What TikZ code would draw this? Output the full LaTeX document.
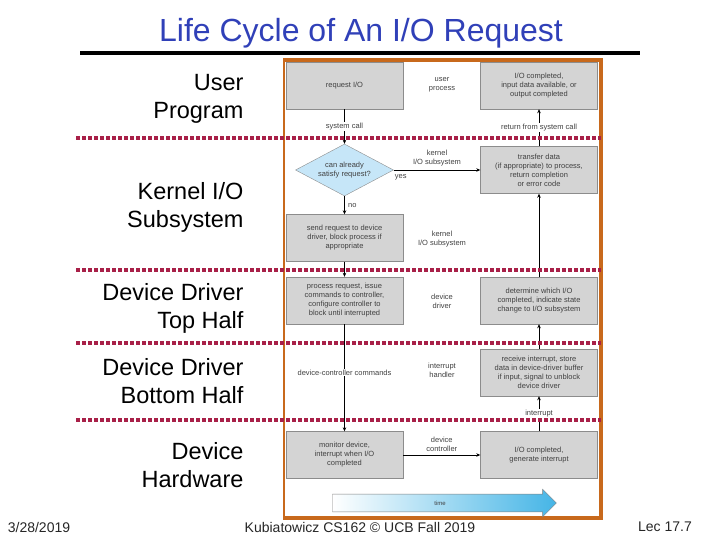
\documentclass[tikz,border=0pt]{standalone}
\usepackage{fontspec}
\setmainfont{Liberation Sans}
\usetikzlibrary{arrows.meta,shapes.geometric,shapes.arrows}
\definecolor{titleblue}{HTML}{3040B8}
\definecolor{frameorange}{HTML}{C8691C}
\definecolor{dotred}{HTML}{A82048}
\definecolor{boxgray}{HTML}{D4D4D4}
\definecolor{diamondblue}{HTML}{C6E6F8}
\definecolor{timeblue}{HTML}{45B5E6}

\begin{document}
\begin{tikzpicture}[x=1pt, y=-1pt,
  stagebox/.style={draw=black!45, fill=boxgray, minimum width=117pt, minimum height=47pt,
    align=center, inner sep=1pt, font=\fontsize{7.5}{9}\selectfont, text=black!75},
  midtext/.style={align=center, font=\fontsize{7.5}{9}\selectfont, text=black!75},
  linelabel/.style={fill=white, inner sep=1pt, font=\fontsize{7.5}{9}\selectfont, text=black!75},
  levelname/.style={align=right, anchor=east, font=\fontsize{23.5}{28}\selectfont},
  levelline/.style={dotred, line width=3.5pt, dash pattern=on 3.5pt off 2.5pt},
  flowarrow/.style={-{Stealth[length=4pt,width=3.5pt]}, black, line width=0.6pt}]
  \useasboundingbox (0,0) rectangle (720,540);
  % Title
  \node[font=\fontsize{32}{34}\selectfont, text=titleblue] (title) at (361,33) {Life Cycle of An I/O Request};
  \draw[line width=4pt] (80,53) -- (640,53);
  % Frame
  \draw[frameorange, line width=1.5pt] (284,60) rectangle (601,518);
  \draw[frameorange, line width=4pt] (283,60) -- (601,60) -- (601,518) -- (283,518);
  % Levels
  \node[levelname] (user) at (247,99) {User\\Program};
  \node[levelname] (kernel) at (247,207) {Kernel I/O\\Subsystem};
  \node[levelname] (tophalf) at (247,308) {Device Driver\\Top Half};
  \node[levelname] (bottomhalf) at (247,381) {Device Driver\\Bottom Half};
  \node[levelname] (hardware) at (247,465) {Device\\Hardware};
  % Left column
  \def\colL{344.5}
  \def\colR{539}
  \node[stagebox] (request) at (\colL,85.5) {request I/O};
  \node[diamond, draw=black!45, fill=diamondblue, minimum width=98pt, minimum height=52pt,
    aspect=1.9, inner sep=0pt, align=center, font=\fontsize{7.5}{9}\selectfont, text=black!75]
    (satisfy) at (\colL,170) {can already\\satisfy request?};
  \node[stagebox] (send) at (\colL,238) {send request to device\\driver, block process if\\appropriate};
  \node[stagebox] (process) at (\colL,300.5) {process request, issue\\commands to controller,\\configure controller to\\block until interrupted};
  \node[stagebox] (monitor) at (\colL,455) {monitor device,\\interrupt when I/O\\completed};
  % Right column
  \node[stagebox] (iodone) at (\colR,85.5) {I/O completed,\\input data available, or\\output completed};
  \node[stagebox] (transfer) at (\colR,170) {transfer data\\(if appropriate) to process,\\return completion\\or error code};
  \node[stagebox] (determine) at (\colR,300.5) {determine which I/O\\completed, indicate state\\change to I/O subsystem};
  \node[stagebox] (receive) at (\colR,372.5) {receive interrupt, store\\data in device-driver buffer\\if input, signal to unblock\\device driver};
  \node[stagebox] (generate) at (\colR,455) {I/O completed,\\generate interrupt};
  % Middle column
  \node[midtext] (userproc) at (442,85) {user\\process};
  \node[midtext] (kernelsub) at (442,239) {kernel\\I/O subsystem};
  \node[midtext] (driver) at (442,301) {device\\driver};
  \node[midtext] (handler) at (442,370) {interrupt\\handler};
  % Connectors
  \draw[flowarrow] (request.south) -- (satisfy.north) node[linelabel, midway] {system call};
  \draw[flowarrow] (satisfy.east) -- (transfer.west) node[midtext, midway, above] {kernel\\I/O subsystem};
  \node[midtext, anchor=north west, inner sep=1pt] (yeslabel) at ([yshift=-3pt]satisfy.east) {yes};
  \draw[flowarrow] (satisfy.south) -- (send.north) node[midtext, midway, right] {no};
  \draw[flowarrow] (send) -- (process);
  \draw[flowarrow] (process) -- (monitor) node[linelabel, pos=0.45] {device-controller commands};
  \draw[flowarrow] (monitor) -- (generate) node[midtext, midway, above] {device\\controller};
  \draw[flowarrow] (generate) -- (receive) node[linelabel, midway] {interrupt};
  \draw[flowarrow] (receive) -- (determine);
  \draw[flowarrow] (determine) -- (transfer);
  \draw[flowarrow] (transfer) -- (iodone) node[linelabel, midway] {return from system call};
  % Dotted level lines
  \foreach \yy in {138,270,343,420}
    \draw[levelline] (76,\yy) -- (601,\yy);
  % Time arrow
  \node[single arrow, draw=black!50, line width=0.4pt, left color=white, right color=timeblue,
    minimum height=224pt, inner ysep=6.5pt, single arrow head extend=5pt,
    font=\fontsize{6}{7}\selectfont, text=black!75] (time) at (440,503) {time};
  % Footer
  \node[font=\fontsize{14}{16}\selectfont, text=black!85] (date) at (39,527) {3/28/2019};
  \node[font=\fontsize{14}{16}\selectfont, text=black!85] (course) at (360,527) {Kubiatowicz CS162 \textcopyright{} UCB Fall 2019};
  \node[font=\fontsize{14}{16}\selectfont, text=black!85] (lecture) at (665,527) {Lec 17.7};
\end{tikzpicture}
\end{document}
